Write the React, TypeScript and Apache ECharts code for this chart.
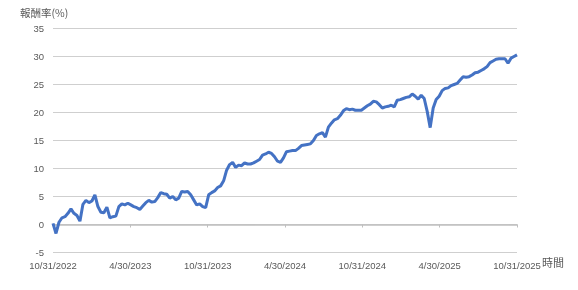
import React, { useEffect, useRef } from "react";
import * as echarts from "echarts";

// Cumulative return (%), sampled roughly weekly from 10/31/2022 to 10/31/2025
const returns: number[] = [
  0.2, -1.6, 0.4, 1.2, 1.4, 2.0, 2.8, 2.0, 1.6, 0.6,
  3.6, 4.3, 3.9, 4.2, 5.3, 3.2, 2.2, 2.1, 3.1, 1.2,
  1.4, 1.5, 3.2, 3.7, 3.5, 3.8, 3.5, 3.2, 3.0, 2.7,
  3.3, 3.9, 4.3, 4.0, 4.1, 4.8, 5.7, 5.5, 5.4, 4.7,
  5.0, 4.4, 4.7, 5.9, 5.8, 5.9, 5.3, 4.4, 3.5, 3.7,
  3.2, 3.0, 5.3, 5.7, 6.0, 6.6, 6.9, 7.8, 9.7, 10.7,
  11.1, 10.2, 10.6, 10.5, 11.0, 10.8, 10.8, 11.0, 11.3, 11.6,
  12.4, 12.6, 12.9, 12.7, 12.1, 11.3, 11.1, 11.9, 13.0, 13.1,
  13.2, 13.2, 13.6, 14.1, 14.2, 14.3, 14.4, 15.0, 15.9, 16.2,
  16.4, 15.6, 17.4, 18.1, 18.7, 18.9, 19.5, 20.3, 20.7, 20.5,
  20.6, 20.4, 20.4, 20.4, 20.8, 21.2, 21.5, 22.0, 21.9, 21.4,
  20.8, 21.0, 21.1, 21.3, 21.0, 22.2, 22.3, 22.5, 22.7, 22.8,
  23.3, 22.9, 22.4, 23.1, 22.5, 20.2, 17.3, 20.8, 22.3, 22.9,
  23.9, 24.3, 24.4, 24.8, 25.0, 25.2, 25.8, 26.4, 26.3, 26.4,
  26.7, 27.1, 27.2, 27.5, 27.8, 28.2, 28.9, 29.2, 29.5, 29.6,
  29.6, 29.6, 28.8, 29.7, 30.0, 30.3,
];

// Half-year tick labels (x axis runs 0..6 half-years)
const dateLabels: string[] = [
  "10/31/2022",
  "4/30/2023",
  "10/31/2023",
  "4/30/2024",
  "10/31/2024",
  "4/30/2025",
  "10/31/2025",
];

const yTitle = "報酬率(%)";
const xTitle = "時間";

export default function App() {
  const ref = useRef<HTMLDivElement>(null);

  useEffect(() => {
    if (!ref.current) return;
    const chart = echarts.init(ref.current, undefined, { renderer: "svg" });
    const span = dateLabels.length - 1;
    const n = returns.length;
    const data = returns.map((v, i) => [(i * span) / (n - 1), v]);
    const labelFont = "'Liberation Sans', 'Noto Sans CJK TC', sans-serif";

    chart.setOption({
      animation: false,
      grid: {
        left: 53,
        right: 61,
        top: 28.5,
        bottom: 37.5,
        containLabel: false,
        outerBoundsMode: "none",
      },
      xAxis: [
        {
          type: "value",
          min: 0,
          max: span,
          interval: 1,
          position: "bottom",
          axisLine: { show: true, onZero: true, lineStyle: { color: "#bfbfbf", width: 1.5 } },
          axisTick: { show: true, length: 3, lineStyle: { color: "#bfbfbf" } },
          axisLabel: { show: false },
          splitLine: { show: false },
        },
        {
          type: "value",
          min: 0,
          max: span,
          interval: 1,
          position: "bottom",
          axisLine: { show: false, onZero: false },
          axisTick: { show: false },
          splitLine: { show: false },
          axisLabel: {
            show: true,
            margin: 8,
            color: "#595959",
            fontSize: 9.5,
            fontFamily: labelFont,
            formatter: (v: number) => dateLabels[Math.round(v)] ?? "",
          },
        },
      ],
      yAxis: {
        type: "value",
        min: -5,
        max: 35,
        interval: 5,
        axisLine: { show: false },
        axisTick: { show: false },
        axisLabel: {
          color: "#595959",
          fontSize: 9.5,
          fontFamily: labelFont,
          margin: 9,
        },
        splitLine: { lineStyle: { color: "#cfcfcf", width: 1 } },
      },
      graphic: [
        {
          type: "text",
          left: 20,
          top: 7,
          style: {
            text: yTitle,
            fill: "#595959",
            fontSize: 10.5,
            fontFamily: "'Noto Sans CJK TC', sans-serif",
          },
        },
        {
          type: "text",
          left: 542,
          top: 256,
          style: {
            text: xTitle,
            fill: "#595959",
            fontSize: 11,
            fontFamily: "'Noto Sans CJK TC', sans-serif",
          },
        },
      ],
      series: [
        {
          type: "line",
          xAxisIndex: 0,
          data,
          showSymbol: false,
          symbol: "none",
          lineStyle: { color: "#4472C4", width: 3 },
          itemStyle: { color: "#4472C4" },
        },
      ],
    });

    return () => chart.dispose();
  }, []);

  return (
    <div
      ref={ref}
      style={{ position: "fixed", left: 0, top: 0, width: 578, height: 290 }}
    />
  );
}
